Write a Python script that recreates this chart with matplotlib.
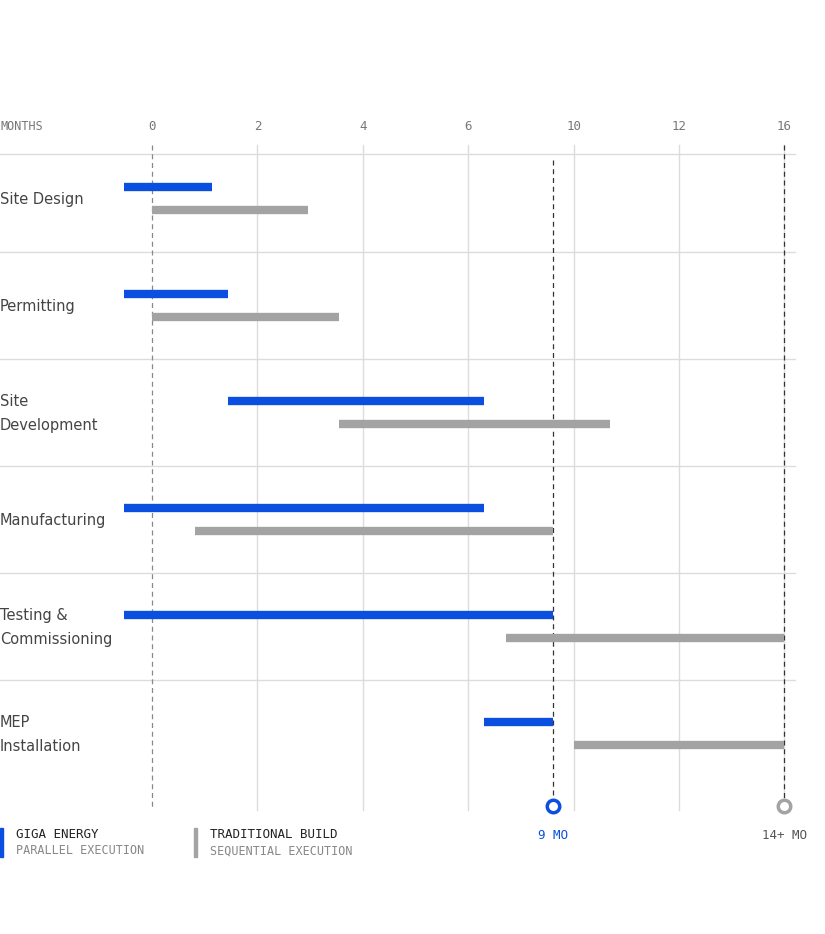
import matplotlib.pyplot as plt

# month ticks are drawn evenly spaced, labels as shown
tick_labels = ["0", "2", "4", "6", "10", "12", "16"]
tasks = ["Site Design", "Permitting", "Site\nDevelopment", "Manufacturing",
         "Testing &\nCommissioning", "MEP\nInstallation"]
# bar start/end in tick-slot units
giga_start = [-0.27, -0.27, 0.72, -0.27, -0.27, 3.15]
giga_end = [0.57, 0.72, 3.15, 3.15, 3.80, 3.80]
trad_start = [0.0, 0.0, 1.77, 0.41, 3.36, 4.0]
trad_end = [1.48, 1.77, 4.35, 3.80, 6.0, 6.0]
giga_finish = 3.80
trad_finish = 6.0

BLUE = "#0a4fe0"
GRAY = "#a3a3a3"
GRID = "#dcdcdc"
TXT = "#444444"

fig = plt.figure(figsize=(8.25, 9.34), dpi=100)
ax = fig.add_axes([0, 0, 1, 1])
ax.set_xlim(-152 / 105.4, (825 - 152) / 105.4)
ax.set_ylim(934 / 107, 0)
ax.axis("off")

# vertical grid
for i, lab in enumerate(tick_labels):
    if i > 0:
        ax.plot([i, i], [1.355, 7.57], color=GRID, lw=1, zorder=0)
    ax.text(i, 1.18, lab, ha="center", va="center", family="DejaVu Sans Mono",
            fontsize=9, color="#777777")
ax.text(-1.442, 1.18, "MONTHS", ha="left", va="center", family="DejaVu Sans Mono",
        fontsize=8.5, color="#777777")

# row separators
for k in range(6):
    y = 1.439 if k == 0 else 2.355 + (k - 1)
    ax.plot([-1.442, 6.1], [y, y], color=GRID, lw=1, zorder=0)

# dashed reference lines
ax.plot([0, 0], [1.355, 7.57], color="#888888", lw=0.9, ls=(0, (4, 3)), zorder=1)
ax.plot([giga_finish] * 2, [1.5, 7.5], color="#333333", lw=0.9, ls=(0, (4, 3)), zorder=1)
ax.plot([trad_finish] * 2, [1.355, 7.5], color="#333333", lw=0.9, ls=(0, (4, 3)), zorder=1)

for i, t in enumerate(tasks):
    ax.plot([giga_start[i], giga_end[i]], [1.748 + i] * 2, color=BLUE, lw=6,
            solid_capstyle="butt", zorder=3)
    ax.plot([trad_start[i], trad_end[i]], [1.963 + i] * 2, color=GRAY, lw=6,
            solid_capstyle="butt", zorder=3)
    ax.text(-1.442, 1.86 + i, t, ha="left", va="center", fontsize=10.5,
            color=TXT, linespacing=1.75)

# end markers
ax.plot(giga_finish, 7.53, "o", ms=9, mfc="white", mec=BLUE, mew=2.5, zorder=4)
ax.plot(trad_finish, 7.53, "o", ms=9, mfc="white", mec=GRAY, mew=2.5, zorder=4)
ax.text(giga_finish, 7.81, "9 MO", ha="center", va="center", family="DejaVu Sans Mono",
        fontsize=9, color=BLUE)
ax.text(trad_finish, 7.81, "14+ MO", ha="center", va="center", family="DejaVu Sans Mono",
        fontsize=9, color="#555555")

# legend
fig.patches.append(plt.Rectangle((0, 1 - 857 / 934), 3 / 825, 29 / 934,
                                 transform=fig.transFigure, color=BLUE))
fig.patches.append(plt.Rectangle((194 / 825, 1 - 857 / 934), 3 / 825, 29 / 934,
                                 transform=fig.transFigure, color=GRAY))
for x0, a, b in [(16, "GIGA ENERGY", "PARALLEL EXECUTION"),
                 (210, "TRADITIONAL BUILD", "SEQUENTIAL EXECUTION")]:
    fig.text(x0 / 825, 1 - 835 / 934, a, ha="left", va="center",
             family="DejaVu Sans Mono", fontsize=9, color="#222222")
    fig.text(x0 / 825, 1 - 851 / 934, b, ha="left", va="center",
             family="DejaVu Sans Mono", fontsize=8.5, color="#888888")

fig.savefig("out.png", dpi=100)
